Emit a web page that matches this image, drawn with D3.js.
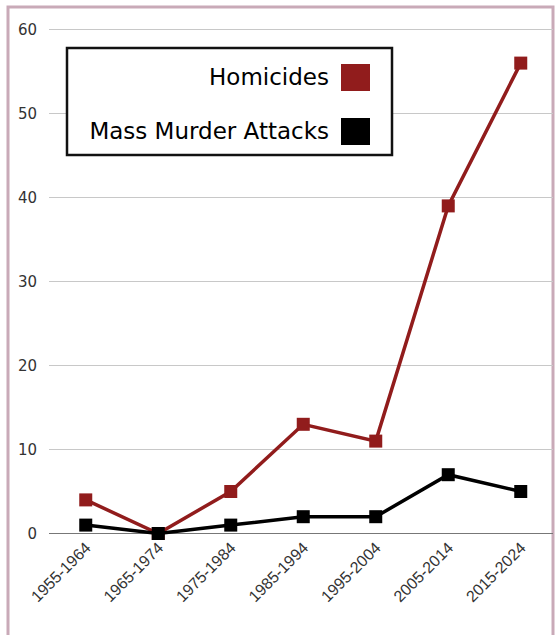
<!DOCTYPE html>
<html>
<head>
<meta charset="utf-8">
<script src="https://cdn.jsdelivr.net/npm/d3@7"></script>
<style>
  body { margin: 0; background: #fff; }
  svg { display: block; }
</style>
</head>
<body>
<svg width="559" height="635"></svg>
<script>
const decades = ["1955-1964", "1965-1974", "1975-1984", "1985-1994", "1995-2004", "2005-2014", "2015-2024"];
const homicides = [4, 0, 5, 13, 11, 39, 56];
const massMurders = [1, 0, 1, 2, 2, 7, 5];
const yTicks = [0, 10, 20, 30, 40, 50, 60];

const svg = d3.select("svg");
const font = "'DejaVu Sans', sans-serif";

// frame
svg.append("rect")
    .attr("x", 8).attr("y", 7)
    .attr("width", 545).attr("height", 640)
    .attr("fill", "none")
    .attr("stroke", "#c9aab8")
    .attr("stroke-width", 3);

const x = d3.scaleBand()
    .domain(decades)
    .range([49.5, 557]);

const y = d3.scaleLinear()
    .domain([0, 60])
    .range([533.5, 29.5]);

// gridlines
svg.append("g")
    .selectAll("line")
    .data(yTicks)
    .join("line")
    .attr("x1", 49)
    .attr("x2", 553)
    .attr("y1", d => y(d))
    .attr("y2", d => y(d))
    .attr("stroke", d => d === 0 ? "#777" : "#c8c8c8")
    .attr("stroke-width", 1.2);

svg.append("g")
    .selectAll("text")
    .data(yTicks)
    .join("text")
    .attr("x", 37)
    .attr("y", d => y(d))
    .attr("dy", "0.35em")
    .attr("text-anchor", "end")
    .attr("font-family", font)
    .attr("font-size", "15px")
    .attr("fill", "#333")
    .text(d => d);

// x labels
svg.append("g")
    .selectAll("text")
    .data(decades)
    .join("text")
    .attr("transform", d => `translate(${x(d) + x.bandwidth() / 2 + 6},${549}) rotate(-45)`)
    .attr("text-anchor", "end")
    .attr("font-family", "'Liberation Sans', Arial, sans-serif")
    .attr("font-size", "16px")
    .attr("fill", "#333")
    .text(d => d);

const series = [
    {name: "Homicides", values: homicides, color: "#911c1c"},
    {name: "Mass Murder Attacks", values: massMurders, color: "#000"}
];

const line = d3.line()
    .x((d, i) => x(decades[i]) + x.bandwidth() / 2)
    .y(d => y(d));

series.forEach(s => {
    svg.append("path")
        .datum(s.values)
        .attr("d", line)
        .attr("fill", "none")
        .attr("stroke", s.color)
        .attr("stroke-width", 3.5);
    svg.append("g")
        .selectAll("rect")
        .data(s.values)
        .join("rect")
        .attr("x", (d, i) => x(decades[i]) + x.bandwidth() / 2 - 6.5)
        .attr("y", d => y(d) - 6.5)
        .attr("width", 13)
        .attr("height", 13)
        .attr("fill", s.color);
});

// legend
const legend = svg.append("g");
legend.append("rect")
    .attr("x", 67).attr("y", 48)
    .attr("width", 325).attr("height", 107)
    .attr("fill", "#fff")
    .attr("stroke", "#111")
    .attr("stroke-width", 2.5);

const items = legend.selectAll("g.item")
    .data(series)
    .join("g")
    .attr("class", "item")
    .attr("transform", (d, i) => `translate(0,${77 + i * 54})`);

items.append("rect")
    .attr("x", 341).attr("y", -13)
    .attr("width", 29).attr("height", 27)
    .attr("fill", d => d.color);

items.append("text")
    .attr("x", 329)
    .attr("y", 0)
    .attr("dy", "0.35em")
    .attr("text-anchor", "end")
    .attr("font-family", font)
    .attr("font-size", "23px")
    .attr("fill", "#000")
    .text(d => d.name);
</script>
</body>
</html>
